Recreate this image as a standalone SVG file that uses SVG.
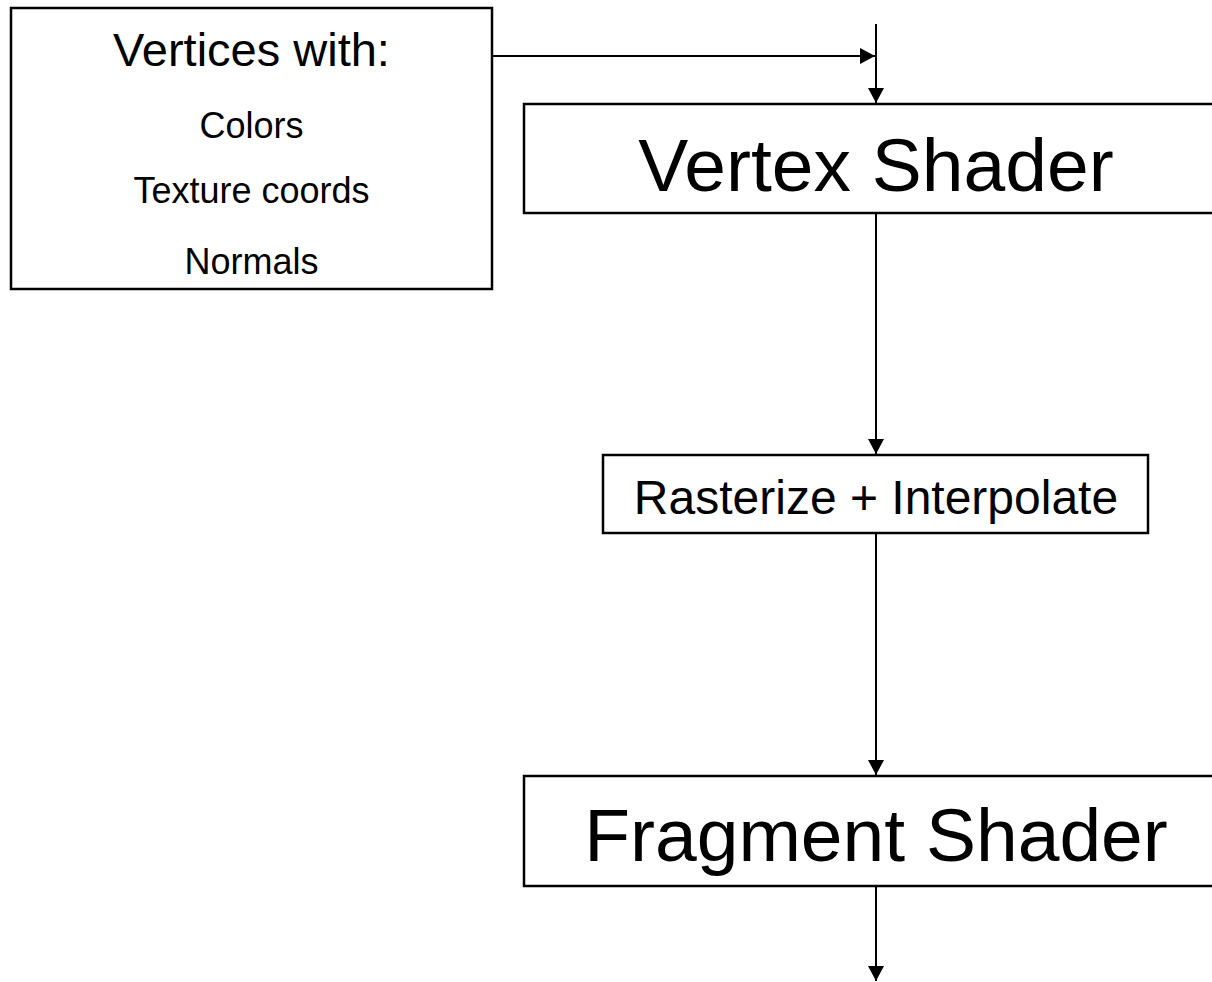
<svg xmlns="http://www.w3.org/2000/svg" width="1212" height="982" viewBox="0 0 1212 982">
<style>
.box{fill:#fff;stroke:#000;stroke-width:2.5}
.t{font-family:"Liberation Sans",Arial,sans-serif;fill:#000;text-anchor:middle}
.c{stroke:#000;stroke-width:2;fill:none}
</style>
<defs>
<marker id="ah" markerUnits="userSpaceOnUse" markerWidth="15" markerHeight="16" refX="15" refY="8" orient="auto">
<path d="M0,0 L15,8 L0,16 z" fill="#000"/>
</marker>
</defs>
<rect width="1212" height="982" fill="#fff"/>
<g id="vertices">
<rect class="box" x="11" y="8" width="481" height="281"/>
<text class="t" x="251.5" y="66" font-size="47">Vertices with:</text>
<text class="t" x="251.5" y="138" font-size="36">Colors</text>
<text class="t" x="251.5" y="203" font-size="36">Texture coords</text>
<text class="t" x="251.5" y="274" font-size="36">Normals</text>
</g>
<g id="vertex-shader">
<rect class="box" x="524" y="104" width="704" height="109"/>
<text class="t" x="876" y="191" font-size="75">Vertex Shader</text>
</g>
<g id="rasterize">
<rect class="box" x="603" y="455" width="545" height="78"/>
<text class="t" x="876" y="514" font-size="48">Rasterize + Interpolate</text>
</g>
<g id="fragment-shader">
<rect class="box" x="524" y="776" width="704" height="110"/>
<text class="t" x="876" y="861" font-size="75">Fragment Shader</text>
</g>
<g id="connectors">
<line class="c" x1="492" y1="56" x2="875" y2="56" marker-end="url(#ah)"/>
<line class="c" x1="876" y1="24" x2="876" y2="103" marker-end="url(#ah)"/>
<line class="c" x1="876" y1="213" x2="876" y2="454" marker-end="url(#ah)"/>
<line class="c" x1="876" y1="533" x2="876" y2="775" marker-end="url(#ah)"/>
<line class="c" x1="876" y1="886" x2="876" y2="981" marker-end="url(#ah)"/>
</g>
</svg>
